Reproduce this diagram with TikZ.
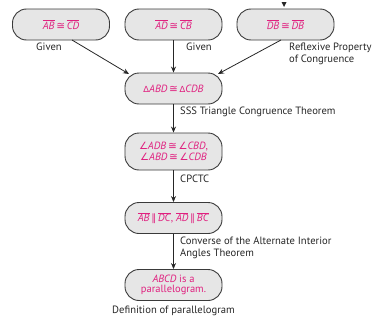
\documentclass[tikz,border=0pt]{standalone}
\usepackage{fontspec}
\setmainfont{PT Sans}
\newfontfamily\symf{DejaVu Sans}
\usetikzlibrary{arrows.meta}
\definecolor{pinkt}{HTML}{E0207F}
\definecolor{boxfill}{HTML}{E6E6E6}
\definecolor{boxline}{HTML}{3A3A3A}
\newcommand{\ov}[1]{$\overline{\mbox{\textit{#1}}}$}
\newcommand{\cng}{\,{\symf\fontsize{10.5}{10}\selectfont ≅}\,}
\newcommand{\tri}{{\symf\fontsize{8.5}{10}\selectfont ∆}}
\newcommand{\ang}{{\symf\fontsize{10}{10}\selectfont ∠}}
\newcommand{\prl}{\,{\symf\fontsize{10}{10}\selectfont ∥}\,}
\tikzset{
  stmt/.style={draw=boxline, fill=boxfill, line width=0.9pt, rounded corners=14pt,
    minimum width=97pt, minimum height=31pt, inner sep=1pt, align=center,
    text=pinkt, font=\fontsize{10.5}{11.5}\selectfont},
  why/.style={font=\fontsize{10.6}{12}\selectfont, text=black!85, align=left, inner sep=0pt},
  conn/.style={draw=black!85, line width=0.8pt, -{Stealth[length=6pt,width=5pt]}}
}
\begin{document}
\begin{tikzpicture}[x=1pt,y=-1pt]
\useasboundingbox (0,0) rectangle (380,324);
\node[stmt] (s1) at (61,24.5) {\ov{AB}\cng\ov{CD}};
\node[stmt] (s2) at (173.5,24.5) {\ov{AD}\cng\ov{CB}};
\node[stmt] (s3) at (285.5,24.5) {\ov{DB}\cng\ov{DB}};
\node[stmt] (s4) at (173.5,88.5) {\tri\textit{ABD}\cng\tri\textit{CDB}};
\node[stmt, minimum height=37pt] (s5) at (173.5,151.5) {\ang\textit{ADB}\cng\ang\textit{CBD},\\[-1pt]\ang\textit{ABD}\cng\ang\textit{CDB}};
\node[stmt] (s6) at (173.5,218) {\ov{AB}\prl\ov{DC}, \ov{AD}\prl\ov{BC}};
\node[stmt] (s7) at (173.5,285) {\textit{ABCD} is a\\[-1pt]parallelogram.};
\node[why, anchor=north] (g1) at (49,43) {Given};
\node[why, anchor=north west] (g2) at (186,43) {Given};
\node[why, anchor=north west] (g3) at (289,43) {Reflexive Property\\of Congruence};
\node[why, anchor=west] (r4) at (180,112) {SSS Triangle Congruence Theorem};
\node[why, anchor=west] (r5) at (180,179) {CPCTC};
\node[why, anchor=north west] (r6) at (180,237) {Converse of the Alternate Interior\\Angles Theorem};
\node[why, anchor=center] (r7) at (173.5,311) {Definition of parallelogram};
\draw[conn] (72,40) -- (129,74);
\draw[conn] (s2) -- (s4);
\draw[conn] (281,40) -- (218,74);
\draw[conn] (s4) -- (s5);
\draw[conn] (s5) -- (s6);
\draw[conn] (s6) -- (s7);
\fill[black!85] (281.5,2) -- (286.5,2) -- (284,7) -- cycle;
\end{tikzpicture}
\end{document}
